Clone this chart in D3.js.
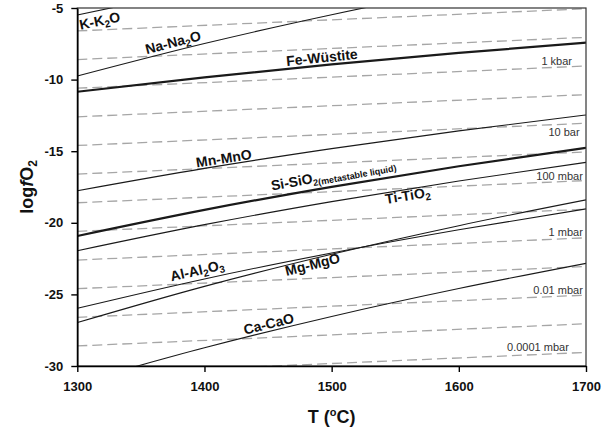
<!DOCTYPE html>
<html><head><meta charset="utf-8">
<script src="https://cdn.jsdelivr.net/npm/d3@7"></script>
<style>body{margin:0;background:#fff}</style>
</head><body>
<svg id="chart" width="606" height="430"></svg>
<script>
// ---------- data ----------
const temps = [1300, 1400, 1500, 1600, 1700];
const kK2O      = [-5.49, -3.67, -2.05, -0.61, 0.69];
const naNa2O    = [-9.75, -7.48, -5.47, -3.67, -2.05];
const feWustite = [-10.85, -9.84, -8.94, -8.14, -7.42];
const mnMnO     = [-17.76, -16.20, -14.82, -13.58, -12.47];
const siSiO2    = [-20.92, -19.10, -17.49, -16.05, -14.76];
const tiTiO2    = [-21.95, -20.13, -18.52, -17.08, -15.78];
const alAl2O3   = [-25.97, -23.92, -22.11, -20.49, -19.03];
const mgMgO     = [-26.97, -24.44, -22.20, -20.20, -18.40];
const caCaO     = [-31.19, -28.73, -26.54, -24.59, -22.83];

const isobarT = [1300, 1700];
const isobarStart = [-6.6, -8.6, -10.6, -12.6, -14.6, -16.6, -18.6, -20.6, -22.6, -24.6, -26.6, -28.6, -30.6];
const isobarEnd   = [-5.05, -7.05, -9.05, -11.05, -13.05, -15.05, -17.05, -19.05, -21.05, -23.05, -25.05, -27.05, -29.05];

const pressureLabels = ["1 kbar", "10 bar", "100 mbar", "1 mbar", "0.01 mbar", "0.0001 mbar"];
const pressureLabelT = [1689, 1695, 1697.5, 1697.5, 1697.5, 1686.5];
const pressureLabelV = [-8.98, -13.97, -17.01, -20.92, -24.97, -28.95];

const xTicks = [1300, 1400, 1500, 1600, 1700];
const yTicks = [-5, -10, -15, -20, -25, -30];

// ---------- layout ----------
const svg = d3.select("#chart");
const x = d3.scaleLinear().domain([1300, 1700]).range([77.3, 586]);
const y = d3.scaleLinear().domain([-30, -5]).range([366, 8]);
const FONT = "Arial, 'Liberation Sans', Helvetica, sans-serif";

svg.append("defs").append("clipPath").attr("id", "plot")
  .append("rect").attr("x", x(1300)).attr("y", y(-5))
  .attr("width", x(1700) - x(1300)).attr("height", y(-30) - y(-5));

const gPlot = svg.append("g").attr("clip-path", "url(#plot)");

// dashed isobars
const isoLine = d3.line().x(d => x(d[0])).y(d => y(d[1]));
isobarStart.forEach((s, i) => {
  gPlot.append("path")
    .attr("d", isoLine([[isobarT[0], s], [isobarT[1], isobarEnd[i]]]))
    .attr("fill", "none").attr("stroke", "#a6a6a6")
    .attr("stroke-width", 1.3).attr("stroke-dasharray", "10,5");
});

// buffers
const buffers = [
  {vals: kK2O,      thick: false, parts: [["K-K",0],["2",1],["O",0]],        T: 1316, off: 15, anchor: "middle"},
  {vals: naNa2O,    thick: false, parts: [["Na-Na",0],["2",1],["O",0]],      T: 1377, off: -4, anchor: "middle"},
  {vals: feWustite, thick: true,  parts: [["Fe-Wüstite",0]],                 T: 1493, off: -3, anchor: "middle"},
  {vals: mnMnO,     thick: false, parts: [["Mn-MnO",0]],                     T: 1416, off: -2, anchor: "middle"},
  {vals: siSiO2,    thick: true,  parts: [["Si-SiO",0],["2(metastable liquid)",2]], T: 1454, off: -7, anchor: "start"},
  {vals: tiTiO2,    thick: false, parts: [["Ti-TiO",0],["2",1]],             T: 1559, off: 11, anchor: "middle"},
  {vals: alAl2O3,   thick: false, parts: [["Al-Al",0],["2",1],["O",0],["3",1]], T: 1396, off: -5, anchor: "middle"},
  {vals: mgMgO,     thick: false, parts: [["Mg-MgO",0]],                     T: 1484, off: 10, anchor: "middle"},
  {vals: caCaO,     thick: false, parts: [["Ca-CaO",0]],                     T: 1452, off: -3, anchor: "middle"}
];

const bufLine = d3.line().x(d => x(d[0])).y(d => y(d[1])).curve(d3.curveMonotoneX);
buffers.forEach(b => {
  gPlot.append("path")
    .attr("d", bufLine(temps.map((t, i) => [t, b.vals[i]])))
    .attr("fill", "none").attr("stroke", "#1a1a1a")
    .attr("stroke-width", b.thick ? 2.2 : 1.1);
});

// frame
svg.append("rect").attr("x", x(1300)).attr("y", y(-5))
  .attr("width", x(1700) - x(1300)).attr("height", y(-30) - y(-5))
  .attr("fill", "none").attr("stroke", "#333").attr("stroke-width", 1.2);

// axes
const yAxis = d3.axisLeft(y).tickValues(yTicks).tickSize(6).tickSizeOuter(0).tickPadding(8).tickFormat(d => String(d));
const xAxis = d3.axisBottom(x).tickValues(xTicks).tickSize(6).tickSizeOuter(0).tickPadding(10).tickFormat(d => String(d));
const gy = svg.append("g").attr("transform", `translate(${x(1300)},0)`).call(yAxis);
const gx = svg.append("g").attr("transform", `translate(0,${y(-30)})`).call(xAxis);
[gx, gy].forEach(g => {
  g.select(".domain").attr("stroke", "#000").attr("stroke-width", 1.6);
  g.selectAll(".tick line").attr("stroke", "#000").attr("stroke-width", 1.4);
  g.selectAll(".tick text").attr("font-family", FONT).attr("font-size", 13)
    .attr("font-weight", "bold").attr("fill", "#111");
});

// axis titles
const xt = svg.append("text").attr("x", (x(1300) + x(1700)) / 2).attr("y", 423)
  .attr("text-anchor", "middle").attr("font-family", FONT).attr("font-size", 18)
  .attr("font-weight", "bold").attr("fill", "#111");
xt.append("tspan").text("T (");
xt.append("tspan").attr("font-size", 11).attr("dy", -7).text("o");
xt.append("tspan").attr("dy", 7).text("C)");

const yt = svg.append("text").attr("transform", `translate(33,${(y(-5) + y(-30)) / 2}) rotate(-90)`)
  .attr("text-anchor", "middle").attr("font-family", FONT).attr("font-size", 18)
  .attr("font-weight", "bold").attr("fill", "#111");
yt.append("tspan").text("log");
yt.append("tspan").attr("font-style", "italic").text("f");
yt.append("tspan").text("O");
yt.append("tspan").attr("font-size", 12).attr("dy", 4).text("2");

// buffer labels
buffers.forEach(b => {
  const interp = d3.scaleLinear().domain(temps).range(b.vals);
  const px = x(b.T), py = y(interp(b.T));
  const dx = x(b.T + 5) - x(b.T - 5), dy = y(interp(b.T + 5)) - y(interp(b.T - 5));
  const ang = Math.atan2(dy, dx) * 180 / Math.PI;
  const t = svg.append("text")
    .attr("transform", `translate(${px},${py}) rotate(${ang})`)
    .attr("y", b.off).attr("text-anchor", b.anchor)
    .attr("font-family", FONT).attr("font-size", 14).attr("font-weight", "bold").attr("fill", "#111");
  let shift = 0;
  b.parts.forEach(([txt, kind]) => {
    const target = kind === 0 ? 0 : 3;
    const ts = t.append("tspan").attr("dy", target - shift).text(txt);
    if (kind === 1) ts.attr("font-size", 10);
    if (kind === 2) ts.attr("font-size", 9);
    shift = target;
  });
});

// pressure labels
pressureLabels.forEach((lab, i) => {
  svg.append("text").attr("x", x(pressureLabelT[i])).attr("y", y(pressureLabelV[i]))
    .attr("text-anchor", "end").attr("font-family", FONT).attr("font-size", 11)
    .attr("fill", "#333").text(lab);
});
</script>
</body></html>
